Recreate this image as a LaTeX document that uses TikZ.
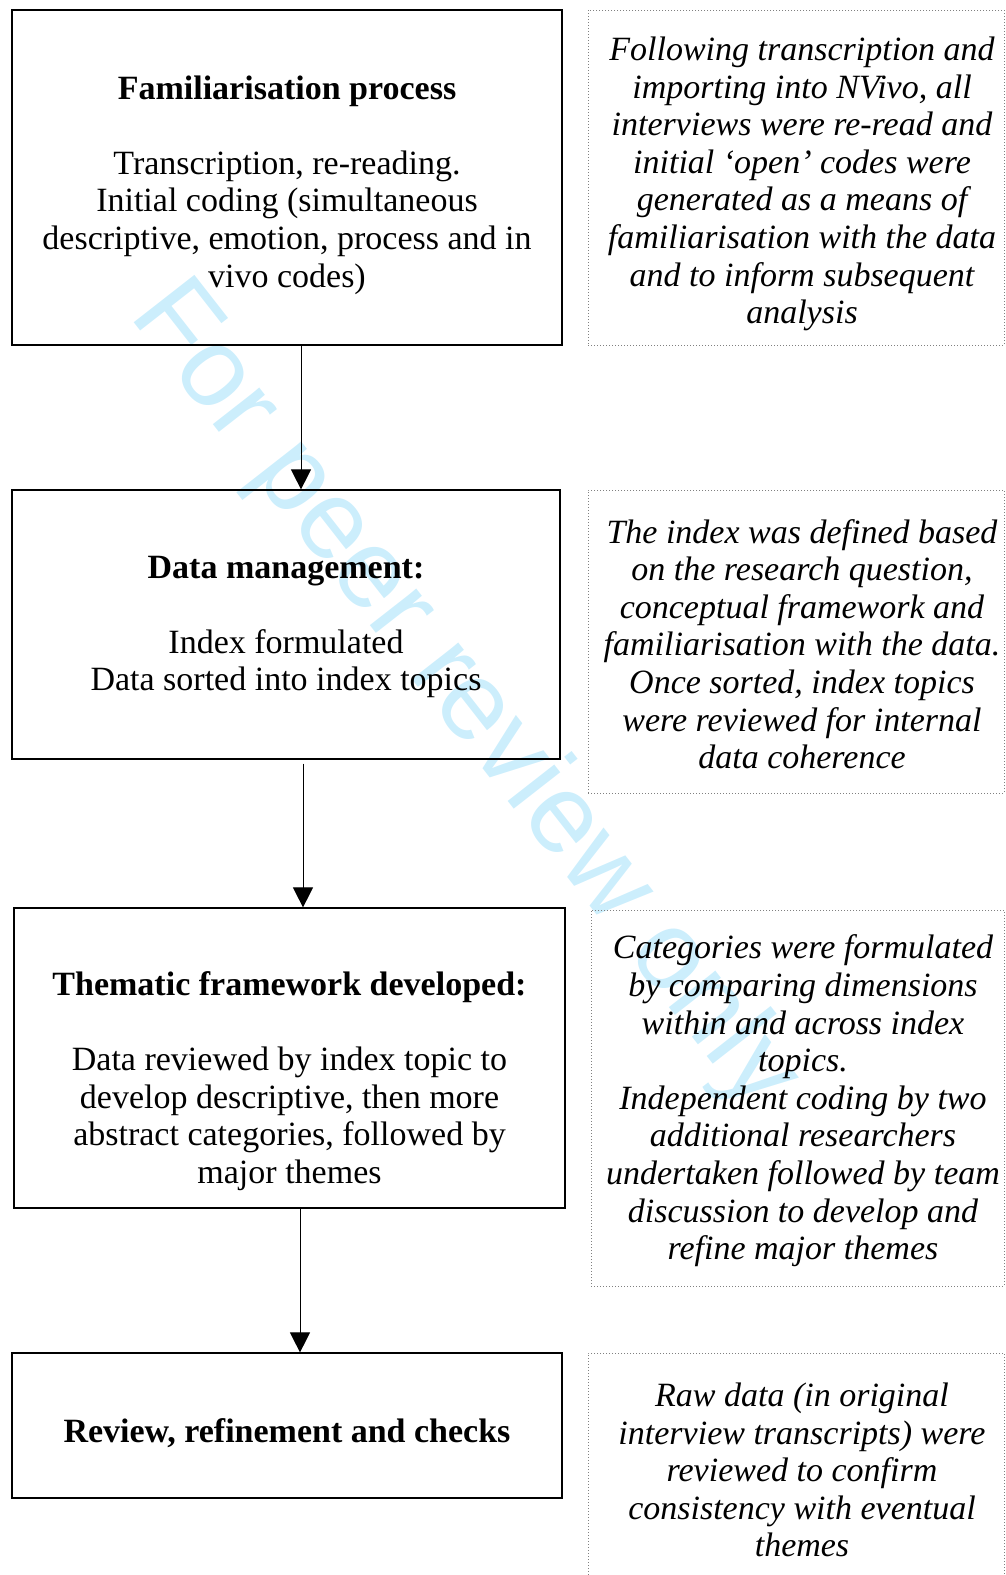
\documentclass[tikz,border=0pt]{standalone}
\usepackage{fontspec}
\setmainfont{Liberation Serif}
\setsansfont{Liberation Sans}
\usetikzlibrary{arrows.meta,positioning}
\definecolor{wmblue}{RGB}{204,238,252}

\begin{document}
\begin{tikzpicture}[
    x = 0.5pt, y = -0.5pt, %
    > = {Triangle[width=10pt,length=10pt]}, %
    flow/.style = {->, line width = 0.5pt} %
    ]

    \tikzset{
    stage/.style = {draw = black, line width = 0.6pt, inner sep = 0pt},
    note/.style = {draw = gray, densely dotted, line width = 0.5pt, inner sep = 0pt},
    stagetext/.style = {align = center, inner sep = 0pt, font = \fontsize{17}{18.8}\selectfont},
    notetext/.style = {stagetext, font = \fontsize{17}{18.8}\selectfont\itshape}
    }

    \useasboundingbox (0,0) rectangle (1006,1575);

    % watermark
    \node[font = \sffamily\fontsize{56}{60}\selectfont, text = wmblue, rotate = -52,
          anchor = base west, inner sep = 0pt] (wm) at (128,315) {For peer review only};

    % stages on the left
    \node[stage, minimum width = 275pt, minimum height = 167.5pt] (fam) at (287,177.5) {};
    \node[stage, minimum width = 274pt, minimum height = 134.5pt] (dm) at (286,624.5) {};
    \node[stage, minimum width = 275.5pt, minimum height = 150pt] (tf) at (289.5,1058) {};
    \node[stage, minimum width = 275pt, minimum height = 72.5pt] (rev) at (287,1425.5) {};

    \node[stagetext] (famtext) at (287,185) {\textbf{Familiarisation process}\\[18.8pt]
        Transcription, re-reading.\\ Initial coding (simultaneous\\
        descriptive, emotion, process and in\\ vivo codes)};
    \node[stagetext] (dmtext) at (286,627) {\textbf{Data management:}\\[18.8pt]
        Index formulated\\ Data sorted into index topics};
    \node[stagetext] (tftext) at (289.5,1081) {\textbf{Thematic framework developed:}\\[18.8pt]
        Data reviewed by index topic to\\ develop descriptive, then more\\
        abstract categories, followed by\\ major themes};
    \node[stagetext] (revtext) at (287,1433) {\textbf{Review, refinement and checks}};

    % notes on the right
    \node[note, minimum width = 208pt, minimum height = 167.5pt] (famnote) at (796,177.5) {};
    \node[note, minimum width = 208pt, minimum height = 151.5pt] (dmnote) at (796,641.5) {};
    \node[note, minimum width = 206.5pt, minimum height = 188pt] (tfnote) at (797.5,1098) {};
    \node[note, minimum width = 208pt, minimum height = 118.5pt] (revnote) at (796,1471.5) {};

    \node[notetext] (famnotetext) at (802,184) {Following transcription and\\
        importing into NVivo, all\\ interviews were re-read and\\
        initial ‘open’ codes were\\ generated as a means of\\
        familiarisation with the data\\ and to inform subsequent\\ analysis};
    \node[notetext] (dmnotetext) at (802,644) {The index was defined based\\
        on the research question,\\ conceptual framework and\\
        familiarisation with the data.\\ Once sorted, index topics\\
        were reviewed for internal\\ data coherence};
    \node[notetext] (tfnotetext) at (803,1101) {Categories were formulated\\
        by comparing dimensions\\ within and across index\\ topics.\\
        Independent coding by two\\ additional researchers\\
        undertaken followed by team\\ discussion to develop and\\
        refine major themes};
    \node[notetext] (revnotetext) at (802,1470) {Raw data (in original\\
        interview transcripts) were\\ reviewed to confirm\\
        consistency with eventual\\ themes};

    % arrows
    \draw[flow] ([xshift=7pt]fam.south) -- ([xshift=7.5pt]dm.north);
    \draw[flow] ([xshift=8.5pt, yshift=-2pt]dm.south) -- ([xshift=6.75pt]tf.north);
    \draw[flow] ([xshift=5.25pt]tf.south) -- ([xshift=6.5pt]rev.north);

\end{tikzpicture}
\end{document}
